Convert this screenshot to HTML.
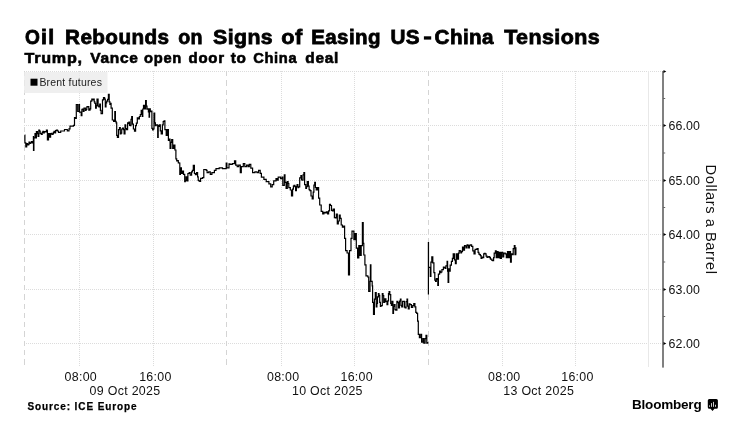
<!DOCTYPE html>
<html><head><meta charset="utf-8">
<style>
html,body{margin:0;padding:0;background:#fff;}
body{width:733px;height:431px;position:relative;overflow:hidden;font-family:"Liberation Sans",sans-serif;color:#000;}
svg{position:absolute;left:0;top:0;will-change:transform;font-family:"Liberation Sans",sans-serif;}
.tt{font-size:20.8px;font-weight:bold;fill:#000;stroke:#000;stroke-width:0.8px;}
.st{font-size:15.4px;font-weight:bold;fill:#000;stroke:#000;stroke-width:0.6px;}
.lg{font-size:10.5px;fill:#222;letter-spacing:0.2px;}
.yl{font-size:12.4px;fill:#111;letter-spacing:0.1px;}
.xl{font-size:12.4px;fill:#111;text-anchor:middle;letter-spacing:0.3px;}
.yt{font-size:14.8px;fill:#111;letter-spacing:0.5px;}
.src{font-size:10px;font-weight:bold;fill:#000;letter-spacing:0.9px;stroke:#000;stroke-width:0.25px;}
.bb{font-size:13.5px;font-weight:bold;fill:#000;letter-spacing:-0.2px;}
.ln{fill:none;stroke:#000;stroke-width:1.2;stroke-linejoin:miter;stroke-miterlimit:3;}
</style></head><body>
<svg id="chart" width="733" height="431" viewBox="0 0 733 431">
<text class="tt" transform="translate(24.90 44) scale(0.9188 1)" letter-spacing="0.4">O</text>
<text class="tt" transform="translate(41.08 44) scale(1.0250 1)" letter-spacing="0.4">i</text>
<text class="tt" transform="translate(48.18 44) scale(1.0250 1)" letter-spacing="0.4">l</text>
<text class="tt" transform="translate(65.10 44) scale(0.9951 1)" letter-spacing="0.4">Rebounds</text>
<text class="tt" transform="translate(178.20 44) scale(0.9441 1)" letter-spacing="0.4">on</text>
<text class="tt" transform="translate(213.10 44) scale(1.0233 1)" letter-spacing="0.4">Signs</text>
<text class="tt" transform="translate(281.30 44) scale(1.0446 1)" letter-spacing="0.4">of</text>
<text class="tt" transform="translate(311.21 44) scale(0.9871 1)" letter-spacing="0.4">Easing</text>
<text class="tt" transform="translate(390.50 44) scale(0.9958 1)" letter-spacing="0.4">US</text>
<text class="tt" transform="translate(434.60 44) scale(0.9932 1)" letter-spacing="0.4">China</text>
<text class="tt" transform="translate(504.20 44) scale(1.0317 1)" letter-spacing="0.4">Tensions</text>
<rect x="423.9" y="36.3" width="7.3" height="3.3" fill="#000"/>
<text class="st" transform="translate(24.50 62.7) scale(1.0490 1)" letter-spacing="0.7">Trump,</text>
<text class="st" transform="translate(90.30 62.7) scale(1.0076 1)" letter-spacing="0.7">Vance</text>
<text class="st" transform="translate(144.10 62.7) scale(0.9568 1)" letter-spacing="0.7">open</text>
<text class="st" transform="translate(188.60 62.7) scale(0.9751 1)" letter-spacing="0.7">door</text>
<text class="st" transform="translate(230.70 62.7) scale(0.9983 1)" letter-spacing="0.7">to</text>
<text class="st" transform="translate(253.20 62.7) scale(0.9545 1)" letter-spacing="0.7">China</text>
<text class="st" transform="translate(305.30 62.7) scale(1.0024 1)" letter-spacing="0.7">deal</text>
<g fill="none" stroke-width="1" shape-rendering="crispEdges">
<line x1="24" x2="662" y1="71.5" y2="71.5" stroke="#dcdcdc" stroke-dasharray="1 1"/>
<line x1="24" x2="662" y1="125.5" y2="125.5" stroke="#dcdcdc" stroke-dasharray="1 1"/>
<line x1="24" x2="662" y1="180.5" y2="180.5" stroke="#dcdcdc" stroke-dasharray="1 1"/>
<line x1="24" x2="662" y1="234.5" y2="234.5" stroke="#dcdcdc" stroke-dasharray="1 1"/>
<line x1="24" x2="662" y1="289.5" y2="289.5" stroke="#dcdcdc" stroke-dasharray="1 1"/>
<line x1="24" x2="662" y1="343.5" y2="343.5" stroke="#dcdcdc" stroke-dasharray="1 1"/>
<line x1="79.5" x2="79.5" y1="71" y2="367" stroke="#dcdcdc" stroke-dasharray="1 1"/>
<line x1="153.5" x2="153.5" y1="71" y2="367" stroke="#dcdcdc" stroke-dasharray="1 1"/>
<line x1="281.5" x2="281.5" y1="71" y2="367" stroke="#dcdcdc" stroke-dasharray="1 1"/>
<line x1="354.5" x2="354.5" y1="71" y2="367" stroke="#dcdcdc" stroke-dasharray="1 1"/>
<line x1="502.5" x2="502.5" y1="71" y2="367" stroke="#dcdcdc" stroke-dasharray="1 1"/>
<line x1="575.5" x2="575.5" y1="71" y2="367" stroke="#dcdcdc" stroke-dasharray="1 1"/>
<line x1="24.5" x2="24.5" y1="71" y2="367" stroke="#d4d4d4" stroke-dasharray="5.3 4"/>
<line x1="226.5" x2="226.5" y1="71" y2="367" stroke="#d4d4d4" stroke-dasharray="5.3 4"/>
<line x1="428.5" x2="428.5" y1="71" y2="367" stroke="#d4d4d4" stroke-dasharray="5.3 4"/>
<line x1="648.5" x2="648.5" y1="71" y2="367" stroke="#e8e8e8"/>
</g>
<rect x="24" y="72" width="83.5" height="21" fill="#ebebeb" fill-opacity="0.8"/>
<rect x="30.5" y="78.7" width="7" height="7" fill="#000"/>
<text class="lg" x="39.4" y="85.8">Brent futures</text>
<rect x="662" y="71" width="2" height="296.6" fill="#808080"/>
<path d="M663.5 70.0 L666.3 71.5 L663.5 73.0Z" fill="#000"/>
<path d="M663.5 124.0 L666.3 125.5 L663.5 127.0Z" fill="#000"/>
<text class="yl" x="668.6" y="129.9">66.00</text>
<path d="M663.5 179.0 L666.3 180.5 L663.5 182.0Z" fill="#000"/>
<text class="yl" x="668.6" y="184.9">65.00</text>
<path d="M663.5 233.0 L666.3 234.5 L663.5 236.0Z" fill="#000"/>
<text class="yl" x="668.6" y="238.9">64.00</text>
<path d="M663.5 288.0 L666.3 289.5 L663.5 291.0Z" fill="#000"/>
<text class="yl" x="668.6" y="293.9">63.00</text>
<path d="M663.5 342.0 L666.3 343.5 L663.5 345.0Z" fill="#000"/>
<text class="yl" x="668.6" y="347.9">62.00</text>
<rect x="663" y="98.0" width="2.2" height="1" fill="#666"/>
<rect x="663" y="152.5" width="2.2" height="1" fill="#666"/>
<rect x="663" y="207.0" width="2.2" height="1" fill="#666"/>
<rect x="663" y="261.5" width="2.2" height="1" fill="#666"/>
<rect x="663" y="316.0" width="2.2" height="1" fill="#666"/>
<text class="xl" x="80.8" y="380.6">08:00</text>
<text class="xl" x="155.4" y="380.6">16:00</text>
<text class="xl" x="283.2" y="380.6">08:00</text>
<text class="xl" x="356.7" y="380.6">16:00</text>
<text class="xl" x="504.3" y="380.6">08:00</text>
<text class="xl" x="577.5" y="380.6">16:00</text>
<text class="xl" x="125" y="395.3">09 Oct 2025</text>
<text class="xl" x="327.4" y="395.3">10 Oct 2025</text>
<text class="xl" x="538.7" y="395.3">13 Oct 2025</text>
<text class="yt" transform="translate(706.3 164.5) rotate(90)">Dollars a Barrel</text>
<text class="src" x="27.4" y="410.3">Source: ICE Europe</text>
<text class="bb" x="632" y="409.3">Bloomberg</text>
<path d="M709.3 399.1 h7.1 a1.5 1.5 0 0 1 1.5 1.5 v6.7 a1.5 1.5 0 0 1 -1.5 1.5 h-1.9 l-2 2.1 l-2 -2.1 h-1.2 a1.5 1.5 0 0 1 -1.5 -1.5 v-6.7 a1.5 1.5 0 0 1 1.5 -1.5z" fill="#000"/>
<rect x="709.0500000000001" y="405" width="0.8" height="1.90" rx="0.4" fill="#fff"/>
<rect x="711.15" y="402.9" width="0.8" height="4.00" rx="0.4" fill="#fff"/>
<rect x="713.15" y="401.7" width="0.8" height="5.20" rx="0.4" fill="#fff"/>
<rect x="715.15" y="404.5" width="0.8" height="2.40" rx="0.4" fill="#fff"/>
<path class="ln" d="M24.6 135.1H24.9V142.8H25.8V146.9H26.7V143.5H27.6V144.9H28.3V144.7H29.0V142.0H29.7V143.5H30.4V142.8H31.4V141.6H32.5V142.8H33.4V136.5H33.5V150.4H33.9V137.9H35.0V133.7H35.7V137.9H36.4V131.6H37.4V133.7H38.1V136.5H38.8V130.2H39.5V131.1H40.2V133.7H41.5V134.5H42.2V132.3H42.9V131.4H43.6V133.0H44.3V131.6H45.0V131.6H45.7V131.8H46.4V130.2H47.3V131.0H47.4V140.0H48.5V133.7H49.5V137.2H50.6V133.7H51.3V133.3H52.0V134.4H52.7V134.0H53.4V132.3H54.1V131.4H54.8V133.0H55.6V130.6H56.4V130.2H57.5V131.0H58.5V132.3H59.6V132.3H60.7V131.0H61.7V131.0H64.5V129.5H67.3V130.9H69.0V128.9H70.0V126.1H73.5V125.4H74.5V117.7H75.6V118.4H76.3V104.5H77.7V111.5H79.1V104.5H79.5V112.2H81.2V115.6H81.9V109.4H82.6V109.0H83.3V111.5H84.0V108.1H84.7V108.0H85.4V110.4H86.1V109.4H86.8V106.8H87.5V106.6H88.8V110.1H90.0V108.9H90.7V101.2H91.8V99.0H92.8V99.8H93.5V99.1H94.2V101.9H94.9V103.4H95.6V108.2H96.3V105.6H97.0V99.1H98.1V106.1H98.9V106.8H99.7V104.0H100.4V110.3H101.1V113.7H102.5V99.8H103.5V97.5H104.6V99.1H105.3V106.8H106.0V102.8H106.7V101.2H107.6V99.4H108.4V94.3H109.2V101.9H109.9V104.5H110.6V103.3H111.1V108.2H112.3V120.0H113.6V121.4H114.8V111.6H115.4V121.4H116.1V122.8H116.7V135.3H117.4V137.4H118.5V129.7H119.5V127.6H120.3V133.9H121.0V133.1H121.7V129.0H122.6V128.2H123.4V129.7H124.1V133.9H125.0V124.9H125.7V128.5H126.4V129.7H127.6V122.8H128.2V123.6H128.9V122.1H129.6V125.3H130.3V125.6H131.0V119.3H131.7V116.5H132.4V124.2H133.4V129.0H134.5V131.1H135.6V125.6H136.4V123.1H137.3V117.9H138.4V118.8H139.4V116.5H140.3V114.5H141.2V110.3H142.2V116.5H142.8V109.0H143.5V105.4H144.5V108.9H145.6V100.5H146.3V106.1H147.0V109.2H147.7V108.9H148.4V112.0H149.1V117.2H149.5V108.9H150.3V111.6H151.2V111.0H151.9V128.3H152.6V129.9H153.3V129.0H154.0V113.0H154.7V122.8H155.4V125.7H156.1V124.9H157.7V137.4H158.2V125.6H158.8V126.3H159.5V124.9H160.3V130.8H161.2V133.9H162.4V124.9H163.2V121.5H164.1V120.8H164.9V129.7H166.2V135.4H167.3V129.7H168.4V140.3H169.2V139.1H170.0V141.1H170.1V148.4H170.9V142.4H171.7V139.5H172.7V148.4H173.8V145.2H174.9V150.0H175.9V158.9H176.7V161.0H177.5V160.6H178.3V162.8H179.1V163.0H179.8V174.4H180.4V167.9H181.4V173.5H182.4V171.1H183.5V174.4H184.7V181.7H185.3V180.5H186.0V176.8H186.8V180.9H187.9V173.5H189.2V172.7H190.2V175.2H190.9V175.2H191.6V171.9H192.4V170.3H193.3V165.4H194.4V173.5H195.4V174.6H196.5V172.7H197.6V176.8H198.2V180.4H198.9V180.9H199.8V181.4H200.6V178.4H202.5V177.6H203.8V169.5H206.2V170.3H207.1V172.7H208.7V171.9H210.3V174.4H211.9V172.7H214.4V170.3H216.0V168.7H219.2V167.9H222.5V168.7H224.9V168.7H226.2V163.0H226.9V167.9H229.0V163.8H230.0V164.3H232.3V163.6H234.5V160.9H235.7V165.1H237.2V166.6H238.7V165.1H240.3V172.6H241.3V166.6H243.3V163.6H244.8V166.6H246.6V165.1H248.1V166.6H249.3V164.3H250.8V168.1H252.6V172.6H254.9V171.9H257.1V172.6H258.6V170.4H260.2V173.4H261.4V177.1H263.9V179.4H266.2V181.7H268.9V183.9H270.7V186.9H272.2V184.7H273.7V180.9H276.0V178.6H277.0V180.2H278.2V177.1H280.5V178.6H282.0V177.1H282.8V185.4H284.3V174.9H285.0V182.4H286.1V188.4H287.3V181.7H288.1V183.5H288.8V187.7H289.6V187.5H290.3V190.0H291.5V196.0H292.6V189.2H293.4V186.2H294.1V185.4H294.9V186.7H295.6V190.7H296.4V186.4H297.1V184.7H297.9V187.6H298.6V186.9H299.7V177.9H300.9V175.6H301.6V180.0H302.4V180.2H303.1V174.8H303.9V172.6H304.6V184.7H305.8V188.4H306.5V186.6H307.2V181.7H308.4V186.2H309.1V189.7H309.9V190.7H311.0V196.0H312.2V199.0H313.2V192.2H313.9V185.1H314.7V182.4H315.4V187.5H316.2V190.0H317.4V187.7H318.6V198.2H319.7V205.0H321.2V211.3H322.7V214.0H323.9V212.4H325.1V212.8H326.4V211.9H327.6V214.0H328.6V210.8H329.5V204.3H330.5V205.5H331.5V210.4H332.4V210.9H333.2V209.1H334.4V217.7H335.4V217.8H336.3V214.0H337.3V223.8H338.3V221.0H339.3V215.2H340.2V218.3H341.2V225.0H342.4V227.1H343.7V226.2H344.6V238.4H345.6V250.6H347.1V253.0H348.5V275.0H349.5V250.6H351.0V238.4H352.0V231.1H353.9V239.6H355.1V233.5H356.3V248.2H357.6V257.9H358.8V245.7H360.0V255.5H361.2V245.7H362.4V222.6H363.2V243.3H363.8V255.0H364.9V264.9H366.0V275.9H367.8V277.0H368.7V291.4H370.0V281.4H370.4V264.9H370.9V281.4H372.2V285.9H372.6V302.4H373.5V314.5H374.4V299.1H375.3V292.5H376.2V306.8H376.9V303.5H377.5V296.9H378.4V293.6H379.0V295.4H379.7V302.4H380.4V306.3H381.0V305.7H382.3V293.6H383.0V295.7H383.7V302.4H384.8V298.9H385.9V301.3H387.0V304.6H387.8V300.8H388.5V293.6H389.1V291.5H389.8V294.7H390.7V303.5H391.4V305.4H392.0V301.3H392.9V313.4H393.5V306.5H394.2V304.6H395.0V309.6H395.8V310.1H396.9V301.3H397.8V302.6H398.6V307.9H399.5V301.2H400.4V299.1H401.0V305.4H401.7V306.8H402.6V301.3H403.5V301.3H404.4V307.2H405.2V307.9H406.1V301.7H407.0V299.1H407.6V306.1H408.3V309.0H409.2V303.8H410.1V304.6H411.4V307.4H412.7V305.7H413.8V303.7H414.9V306.8H415.8V312.3H416.7V313.4H417.6V321.1H418.3V334.3H419.4V337.6H420.7V334.3H421.6V342.1H422.9V338.7H423.8V343.2H425.1V338.7H426.0V335.4H426.8V343.2H427.7V342.0"/>
<path class="ln" d="M428.4 294.6H428.4V242.5H428.5V267.4H430.3V276.5H430.9V262.1H431.8V256.9H432.8V262.9H433.9V272.7H434.8V280.2H435.6V281.4H436.3V278.7H437.3V279.5H437.8V285.5H438.4V274.2H439.6V271.2H440.4V272.7H441.1V272.0H441.9V269.6H442.6V269.7H443.4V267.2H444.1V267.4H445.0V268.3H445.9V265.9H447.1V261.4H447.6V271.2H448.1V282.5H448.7V268.9H449.4V271.2H450.2V265.2H451.4V261.4H452.4V258.4H453.2V253.9H454.4V259.9H455.4V263.7H456.2V253.9H457.4V259.1H458.5V253.1H459.2V250.5H460.0V250.8H460.8V253.0H461.5V251.6H462.5V247.1H463.7V250.1H464.5V245.6H465.2V245.9H466.0V247.8H467.1V244.8H467.9V245.4H468.6V247.8H469.4V245.6H470.1V244.8H470.9V244.9H471.6V246.3H472.8V250.8H474.0V253.9H475.1V249.3H476.1V249.4H477.0V248.6H478.1V252.3H478.9V254.1H479.6V254.6H480.4V255.7H481.1V258.4H481.9V257.1H482.6V257.6H483.7V253.9H484.4V253.4H485.2V253.9H486.1V256.1H487.0V257.3H487.9V256.9H488.8V256.5H489.7V257.6H490.4V259.1H491.2V259.1H491.9V260.4H492.7V260.6H493.6V257.6H494.2V253.1H495.4V250.8H496.2V257.6H497.2V251.6H498.1V257.6H499.2V252.3H500.2V258.4H501.4V252.3H502.7V256.9H503.7V253.1H505.2V253.9H506.3V257.6H507.5V251.6H508.7V257.6H509.7V251.6H510.5V262.1H511.3V253.9H512.3V254.6H513.2V248.6H514.3V245.6H515.0V254.6H515.8V247.8H515.9V253.9"/>
</svg>
</body></html>
